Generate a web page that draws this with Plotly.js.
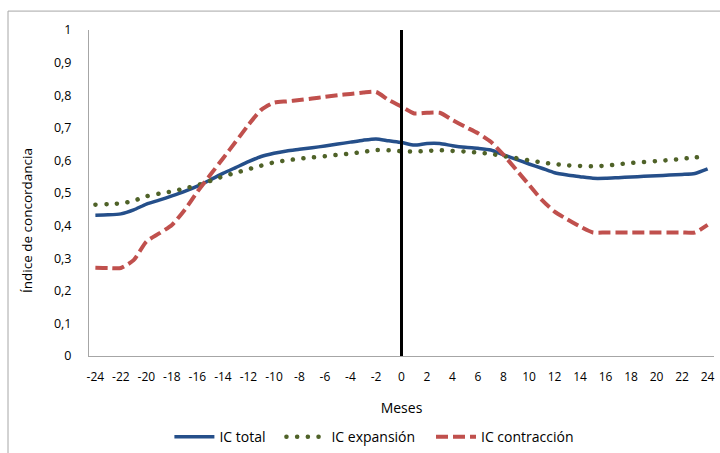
<!DOCTYPE html>
<html>
<head>
<meta charset="utf-8">
<script src="https://cdn.plot.ly/plotly-3.0.1.min.js"></script>
<style>html,body{margin:0;padding:0;background:#fff}#chart{width:720px;height:453px}</style>
</head>
<body>
<div id="chart"></div>
<script>
const months = [-24,-23,-22,-21,-20,-19,-18,-17,-16,-15,-14,-13,-12,-11,-10,-9,-8,-7,-6,-5,-4,-3,-2,-1,0,1,2,3,4,5,6,7,8,9,10,11,12,13,14,15,16,17,18,19,20,21,22,23,24];
const icTotal = [0.432,0.433,0.436,0.448,0.466,0.478,0.491,0.505,0.521,0.540,0.560,0.578,0.596,0.612,0.622,0.629,0.634,0.639,0.644,0.650,0.656,0.662,0.666,0.660,0.655,0.647,0.652,0.652,0.645,0.640,0.637,0.632,0.617,0.603,0.589,0.576,0.562,0.555,0.550,0.545,0.545,0.547,0.549,0.551,0.553,0.555,0.557,0.560,0.574];
const icExpansion = [0.464,0.466,0.468,0.476,0.490,0.498,0.505,0.514,0.524,0.537,0.551,0.562,0.573,0.584,0.594,0.600,0.605,0.609,0.613,0.617,0.621,0.626,0.632,0.631,0.628,0.627,0.629,0.631,0.629,0.627,0.624,0.620,0.613,0.607,0.600,0.594,0.589,0.585,0.583,0.582,0.584,0.588,0.592,0.595,0.598,0.601,0.605,0.609,0.613];
const icContraccion = [0.271,0.270,0.270,0.294,0.351,0.376,0.402,0.448,0.504,0.555,0.606,0.657,0.709,0.755,0.777,0.781,0.785,0.790,0.795,0.800,0.804,0.808,0.810,0.785,0.765,0.744,0.746,0.746,0.724,0.703,0.683,0.657,0.617,0.571,0.525,0.479,0.443,0.419,0.397,0.379,0.379,0.379,0.379,0.379,0.379,0.379,0.379,0.379,0.402];
const xTicks = [-24,-22,-20,-18,-16,-14,-12,-10,-8,-6,-4,-2,0,2,4,6,8,10,12,14,16,18,20,22,24];
const yTicks = [0,0.1,0.2,0.3,0.4,0.5,0.6,0.7,0.8,0.9,1];
const seriesNames = ["IC total", "IC expansión", "IC contracción"];
const xTitle = "Meses";
const yTitle = "Índice de concordancia";

const pad = "\u00a0\u00a0\u00a0";
const font = "Open Sans, Noto Sans, sans-serif";
const traces = [
  {x: months, y: icTotal, name: seriesNames[0] + pad, type: "scatter", mode: "lines",
   line: {color: "#254F8A", width: 3.5, shape: "spline", smoothing: 0.6}},
  {x: months, y: icExpansion, name: seriesNames[1] + pad, type: "scatter", mode: "lines",
   line: {color: "#4F6228", width: 4.5, dash: "0.1px,10.6px", shape: "spline", smoothing: 0.6}},
  {x: months, y: icContraccion, name: seriesNames[2], type: "scatter", mode: "lines",
   line: {color: "#C0504D", width: 4, dash: "12px,5px", shape: "spline", smoothing: 0.6}}
];
const layout = {
  width: 720, height: 453,
  margin: {l: 89, r: 6, t: 30, b: 97, autoexpand: false},
  paper_bgcolor: "#fff", plot_bgcolor: "#fff",
  separators: ",.",
  font: {family: font, size: 12, color: "#000"},
  showlegend: true,
  legend: {orientation: "h", xref: "container", yref: "container", x: 0.52, xanchor: "center",
           y: 0.035, yanchor: "middle",
           font: {family: font, size: 14, color: "#000"}, itemwidth: 40, tracegroupgap: 0},
  xaxis: {range: [-24.5, 24.5], tickmode: "array", tickvals: xTicks, ticktext: xTicks.map(String),
          showgrid: false, zeroline: false, showline: true, linecolor: "#A6A6A6", linewidth: 1,
          ticks: "", tickfont: {size: 12}, ticklabelstandoff: 10, automargin: false,
          title: {text: xTitle, font: {size: 14}, standoff: 18}},
  yaxis: {range: [0, 1], tickmode: "array", tickvals: yTicks, ticktext: yTicks.map(v => String(v).replace(".", ",")),
          showgrid: false, zeroline: false, showline: true, linecolor: "#A6A6A6", linewidth: 1,
          ticks: "", tickfont: {size: 12.5}, ticklabelstandoff: 14, automargin: false},
  annotations: [
    {text: yTitle, xref: "paper", yref: "paper", x: -0.0992, y: 0.414, xanchor: "center", yanchor: "middle",
     textangle: -90, showarrow: false, font: {family: font, size: 13.5, color: "#000"}}
  ],
  shapes: [
    {type: "line", xref: "x", yref: "y", x0: 0, x1: 0, y0: 0, y1: 1, line: {color: "#000", width: 3}},
    {type: "rect", xref: "paper", yref: "paper", x0: -0.1296, x1: 1.06, y0: -0.32, y1: 1.058,
     line: {color: "#A6A6A6", width: 1}, fillcolor: "rgba(0,0,0,0)", layer: "below"}
  ]
};
Plotly.newPlot("chart", traces, layout, {displayModeBar: false, staticPlot: true}).then(function(gd){
  gd.querySelectorAll('.scatterlayer .trace:nth-child(2) path.js-line').forEach(function(p){
    p.style.strokeLinecap = 'round';
  });
  gd.querySelectorAll('.legend .traces').forEach(function(t, i){
    if (i === 1) t.querySelectorAll('path').forEach(function(p){ p.style.strokeLinecap = 'round'; });
  });
});
</script>
</body>
</html>
